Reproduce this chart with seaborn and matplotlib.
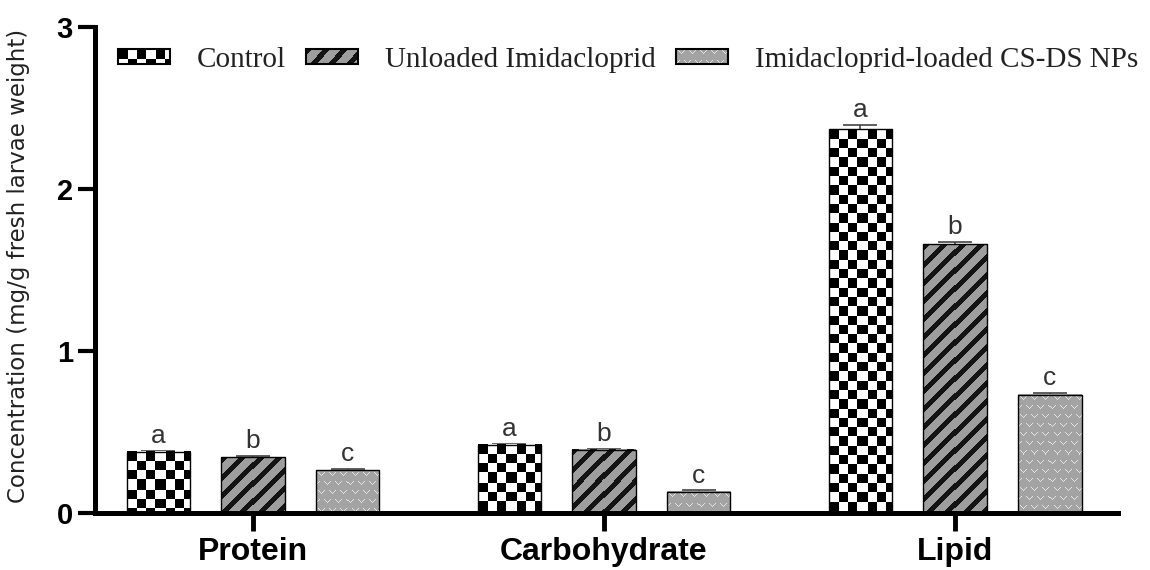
import numpy as np
import pandas as pd
import matplotlib
matplotlib.use("Agg")
import matplotlib.pyplot as plt
import seaborn as sns
from matplotlib.patches import Patch
from matplotlib.image import BboxImage

# ---------------- data ----------------
nutrients = ["Protein", "Carbohydrate", "Lipid"]
treatments = ["Control", "Unloaded Imidacloprid", "Imidacloprid-loaded CS-DS NPs"]
control = [0.377, 0.420, 2.370]
unloaded = [0.345, 0.390, 1.660]
nps = [0.265, 0.130, 0.730]
control_se = [0.008, 0.008, 0.025]
unloaded_se = [0.007, 0.007, 0.015]
nps_se = [0.006, 0.010, 0.012]
letters = ["a", "b", "c"]
yticks = [0, 1, 2, 3]
ylabel = "Concentration (mg/g fresh larvae weight)"

sns.set_theme(style="white")
plt.rcParams["font.family"] = ["Liberation Sans", "DejaVu Sans"]

values = [control, unloaded, nps]
df = pd.DataFrame({
    "Nutrient": [n for _ in treatments for n in nutrients],
    "Treatment": [t for t in treatments for _ in nutrients],
    "Value": [v for vals in values for v in vals],
})

W, H = 1150, 570
fig = plt.figure(figsize=(W / 100, H / 100), dpi=100)
ax = fig.add_axes([95 / W, 57 / H, (1118 - 95) / W, 486 / H])

sns.barplot(data=df, x="Nutrient", y="Value", hue="Treatment",
            order=nutrients, hue_order=treatments, errorbar=None,
            width=0.81, gap=0.333, palette=["white"] * 3,
            edgecolor="black", linewidth=1.0, legend=False, ax=ax, zorder=2)

ax.set_xlim(-0.45, 2.464)
ax.set_ylim(0, 3)


def texture(kind, wpx, hpx):
    wpx = max(wpx, 1)
    hpx = max(hpx, 1)
    r, c = np.mgrid[0:hpx, 0:wpx]
    if kind == 0:
        cell = 9.3
        v = ((c // cell).astype(int) + (r // cell).astype(int)) % 2
        g = np.where(v == 0, 0.0, 1.0)
    elif kind == 1:
        g = np.where(((c + r) % 18) < 6.5, 0.08, 0.62)
    else:
        g = np.full((hpx, wpx), 0.64)
        cw, ch = 11, 9
        shift = ((r // ch) % 2) * (cw // 2)
        u = (c + shift) % cw
        vv = r % ch
        mark = (vv >= 2) & (vv <= 5) & (np.abs(np.abs(u - 5) - (5 - vv)) <= 0.6)
        g = np.where(mark, 0.9, g)
    return np.dstack([g, g, g])


bar_containers = list(ax.containers)
for kind, cont in enumerate(bar_containers):
    for bar in cont:
        bar.set_facecolor("none")
        x0, y0 = bar.get_x(), bar.get_y()
        w, h = bar.get_width(), bar.get_height()
        (px0, py0), (px1, py1) = ax.transData.transform([(x0, y0), (x0 + w, y0 + h)])
        img = texture(kind, int(round(px1 - px0)), int(round(py1 - py0)))
        ax.imshow(img, extent=(x0, x0 + w, y0, y0 + h), aspect="auto",
                  interpolation="nearest", zorder=1)

ses = [control_se, unloaded_se, nps_se]
for cont, se, letter in zip(bar_containers, ses, letters):
    xs = [b.get_x() + b.get_width() / 2 for b in cont]
    hs = [b.get_height() for b in cont]
    ax.errorbar(xs, hs, yerr=se, fmt="none", ecolor="#444444", elinewidth=1.2,
                capsize=12, capthick=1.2, zorder=0.5)
    for x, h, e in zip(xs, hs, se):
        ax.annotate(letter, (x, h + e), xytext=(0, 2), textcoords="offset points",
                    ha="center", va="bottom", fontsize=19, color="#333333")

ax.set_xlim(-0.45, 2.464)
ax.set_ylim(0, 3)
ax.set_yticks(yticks)
ax.set_yticklabels([str(t) for t in yticks], fontweight="bold")
ax.set_xticks(range(len(nutrients)))
ax.set_xticklabels(nutrients, fontweight="bold")
ax.set_xlabel("")
ax.set_ylabel("")
ax.tick_params(axis="y", length=12, width=3, labelsize=21, pad=4, colors="black", left=True)
ax.tick_params(axis="x", length=13, width=3.5, labelsize=23, pad=4, colors="black", bottom=True)
for s in ["top", "right"]:
    ax.spines[s].set_visible(False)
for s in ["left", "bottom"]:
    ax.spines[s].set_linewidth(3.6)
    ax.spines[s].set_color("black")
ax.grid(False)

fig.text(19 / W, 1 - 266 / H, ylabel, rotation=90, ha="center", va="center",
         fontsize=16.5, family=["DejaVu Sans"], color="#222222")

handles = [Patch(facecolor="none", edgecolor="black", linewidth=1.5, label=t) for t in treatments]
leg = ax.legend(handles=handles, ncol=3, loc="center left",
                bbox_to_anchor=(118 / W, 1 - 60 / H), bbox_transform=fig.transFigure,
                frameon=False, prop={"family": "Liberation Serif", "size": 21},
                handlelength=1.78, handleheight=0.42, handletextpad=0.92,
                columnspacing=0.7, borderpad=0, borderaxespad=0, labelcolor="#222222")

fig.canvas.draw()
renderer = fig.canvas.get_renderer()
for kind, hnd in enumerate(leg.legend_handles):
    bb = hnd.get_window_extent(renderer)
    bim = BboxImage(bb, interpolation="nearest", zorder=4.9)
    bim.set_data(texture(kind, int(round(bb.width)), int(round(bb.height))))
    bim.set_clip_on(False)
    ax.add_artist(bim)

fig.savefig("out.png", dpi=100)
